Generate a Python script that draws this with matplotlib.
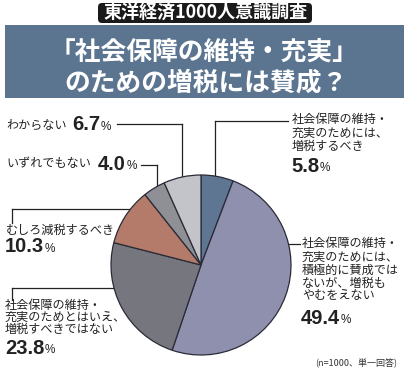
import matplotlib
matplotlib.use("Agg")
import matplotlib.pyplot as plt
from matplotlib.patches import FancyBboxPatch, Rectangle

# ---- data ----
categories = [
    "社会保障の維持・\n充実のためには、\n増税するべき",
    "社会保障の維持・\n充実のためには、\n積極的に賛成では\nないが、増税も\nやむをえない",
    "社会保障の維持・\n充実のためとはいえ、\n増税すべきではない",
    "むしろ減税するべき",
    "いずれでもない",
    "わからない",
]
values = [5.8, 49.4, 23.8, 10.3, 4.0, 6.7]
pct_labels = ["5.8", "49.4", "23.8", "10.3", "4.0", "6.7"]
colors = ["#5f7692", "#8e90ae", "#76767e", "#b57b6a", "#8e9096", "#c3c4c9"]
supertitle = "東洋経済1000人意識調査"
title_lines = ["「社会保障の維持・充実」", "のための増税には賛成？"]
note = "(n=1000、単一回答)"

JP = ["Noto Sans CJK JP", "DejaVu Sans"]
NUM = ["Liberation Sans", "DejaVu Sans"]

W, H = 409, 379
fig = plt.figure(figsize=(W / 100, H / 100), dpi=100)
fig.patch.set_facecolor("white")

ov = fig.add_axes([0, 0, 1, 1])
ov.set_xlim(0, W)
ov.set_ylim(H, 0)
ov.axis("off")

# header box
ov.add_patch(FancyBboxPatch((98, 3), 214, 20, boxstyle="round,pad=0,rounding_size=4",
                            fc="#1a1a1a", ec="none"))
ov.text(205, 13.5, supertitle, color="white", fontsize=13, fontweight="bold",
        family=JP, ha="center", va="center")
ov.add_patch(Rectangle((5, 25), 399, 73, fc="#5b7591", ec="none"))
ov.text(204, 52, title_lines[0], color="white", fontsize=18.5, fontweight="bold",
        family=JP, ha="center", va="center")
ov.text(206, 83, title_lines[1], color="white", fontsize=18.5, fontweight="bold",
        family=JP, ha="center", va="center")

# pie
pax = fig.add_axes([111 / W, (H - 355) / H, 180 / W, 180 / H])
pax.pie(values, colors=colors, startangle=90, counterclock=False, radius=1,
        wedgeprops=dict(edgecolor="#2b2b38", linewidth=0.9))
pax.set_xlim(-1, 1)
pax.set_ylim(-1, 1)
pax.set_aspect("equal")
pax.axis("off")

txtc = "#222222"
lc = "#222222"

def block(x, ys, text, px, py, pct, pctoff):
    for yy, line in zip(ys, text.split("\n")):
        ov.text(x, yy, line, fontsize=8.7, family=JP, color=txtc, ha="left", va="center")
    ov.text(px, py, pct, fontsize=14.5, fontweight="bold", family=NUM, color=txtc,
            ha="left", va="center")
    ov.text(px + pctoff, py + 2, "%", fontsize=8.5, family=NUM, color=txtc,
            ha="left", va="center")

# 5.8
block(292, [120, 133, 146], categories[0], 291, 166, pct_labels[0], 28.5)
ov.plot([215, 288], [121, 121], color=lc, lw=0.9)
ov.plot([215, 215], [121, 176], color=lc, lw=0.9)
# 49.4
block(302, [244, 257, 270, 283, 296], categories[1], 301, 318, pct_labels[1], 39.5)
ov.plot([289, 300], [244, 244], color=lc, lw=0.9)
# 23.8
block(5, [305, 317, 329], categories[2], 5, 348, pct_labels[2], 39.5)
ov.plot([12, 12], [300, 288], color=lc, lw=0.9)
ov.plot([12, 114], [288, 288], color=lc, lw=0.9)
# 10.3
block(6, [230], categories[3], 5, 247, pct_labels[3], 39.5)
ov.plot([12, 12], [223, 209], color=lc, lw=0.9)
ov.plot([12, 130], [209, 209], color=lc, lw=0.9)
# 4.0
block(6, [164], categories[4], 98, 164, pct_labels[4], 28.5)
ov.plot([141, 157], [165, 165], color=lc, lw=0.9)
ov.plot([157, 157], [165, 187], color=lc, lw=0.9)
# 6.7
block(6, [125], categories[5], 72, 125, pct_labels[5], 28.5)
ov.plot([117, 182], [124, 124], color=lc, lw=0.9)
ov.plot([182, 182], [124, 177], color=lc, lw=0.9)

ov.text(356, 363, note, fontsize=6.5, family=JP, color="#333333", ha="center", va="center")

fig.savefig("out.png", dpi=100, facecolor="white")
